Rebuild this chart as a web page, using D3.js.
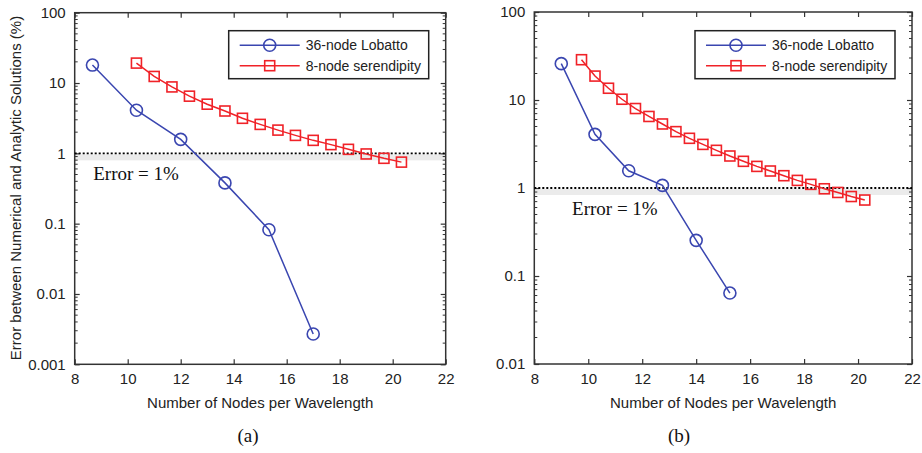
<!DOCTYPE html>
<html lang="en">
<head>
<meta charset="UTF-8">
<title>Error vs nodes per wavelength</title>
<script src="https://d3js.org/d3.v7.min.js"></script>
<style>
  body { margin: 0; background: #fff; }
  svg { display: block; font-family: "Liberation Sans", Arial, sans-serif; }
  .tick text { fill: #222; }
</style>
</head>
<body>
<div id="chart"></div>
<script>
// panel (a)
const lobattoXA = [8.67, 10.33, 12, 13.67, 15.33, 17];
const lobattoYA = [18.0, 4.1, 1.58, 0.38, 0.082, 0.0027];
const serendXA = [10.33, 11, 11.67, 12.33, 13, 13.67, 14.33, 15, 15.67, 16.33, 17, 17.67, 18.33, 19, 19.67, 20.33];
const serendYA = [19.2, 12.4, 8.8, 6.5, 5.0, 4.0, 3.15, 2.58, 2.14, 1.80, 1.53, 1.33, 1.14, 0.98, 0.85, 0.75];

// panel (b)
const lobattoXB = [9, 10.25, 11.5, 12.75, 14, 15.25];
const lobattoYB = [25.9, 4.07, 1.57, 1.07, 0.254, 0.064];
const serendXB = [9.75, 10.25, 10.75, 11.25, 11.75, 12.25, 12.75, 13.25, 13.75, 14.25, 14.75, 15.25, 15.75, 16.25, 16.75, 17.25, 17.75, 18.25, 18.75, 19.25, 19.75, 20.25];
const serendYB = [28.7, 18.7, 13.6, 10.2, 8.0, 6.5, 5.34, 4.37, 3.67, 3.13, 2.68, 2.31, 2.01, 1.76, 1.56, 1.38, 1.22, 1.10, 0.98, 0.89, 0.80, 0.73];

const xTicks = [8, 10, 12, 14, 16, 18, 20, 22];
const yTicksA = [0.001, 0.01, 0.1, 1, 10, 100];
const yTicksB = [0.01, 0.1, 1, 10, 100];
const seriesNames = ["36-node Lobatto", "8-node serendipity"];
const errorLabel = "Error = 1%";
const xTitle = "Number of Nodes per Wavelength";
const yTitle = "Error between Numerical and Analytic Solutions (%)";

const blue = "#3a46b0", red = "#f02228";
const W = 922, H = 453;
const sans = "Liberation Sans, Arial, sans-serif";
const serif = "Liberation Serif, Times New Roman, serif";

const svg = d3.select("#chart").append("svg")
  .attr("width", W).attr("height", H);

function panel(opts) {
  const { left, right, top, bottom, yTicks, lx, ly, sx, sy, legend, errPos, tagX, tag } = opts;
  const x = d3.scaleLinear().domain([8, 22]).range([left, right]);
  const y = d3.scaleLog().domain([yTicks[0], 100]).range([bottom, top]);
  const g = svg.append("g");

  // shadow under the 1% line
  g.append("rect")
    .attr("x", left).attr("width", right - left)
    .attr("y", y(1) + 1).attr("height", 6)
    .attr("fill", "#e6e6e6").attr("opacity", 0.8);

  // minor log ticks
  const minor = [];
  for (let e = Math.log10(yTicks[0]); e < 2; e++) {
    for (let k = 2; k <= 9; k++) minor.push(k * Math.pow(10, e));
  }
  g.selectAll(".minorL").data(minor).join("line")
    .attr("x1", left).attr("x2", left + 3)
    .attr("y1", d => y(d)).attr("y2", d => y(d))
    .attr("stroke", "#333").attr("stroke-width", 1);
  g.selectAll(".minorR").data(minor).join("line")
    .attr("x1", right).attr("x2", right - 3)
    .attr("y1", d => y(d)).attr("y2", d => y(d))
    .attr("stroke", "#333").attr("stroke-width", 1);

  // axes
  g.append("g").attr("transform", `translate(0,${bottom})`)
    .call(d3.axisBottom(x).tickValues(xTicks).tickSize(-5).tickPadding(9));
  g.append("g").attr("transform", `translate(0,${top})`)
    .call(d3.axisTop(x).tickValues(xTicks).tickSize(-5).tickFormat(""));
  g.append("g").attr("transform", `translate(${left},0)`)
    .call(d3.axisLeft(y).tickValues(yTicks).tickSize(-5).tickPadding(9).tickFormat(d => String(d)));
  g.append("g").attr("transform", `translate(${right},0)`)
    .call(d3.axisRight(y).tickValues(yTicks).tickSize(-5).tickFormat(""));
  g.selectAll(".domain").attr("stroke", "none");
  g.selectAll(".tick line").attr("stroke", "#333").attr("stroke-width", 1.2);
  g.selectAll(".tick text").attr("font-size", 15).attr("font-family", sans);

  // frame
  g.append("rect").attr("x", left).attr("y", top)
    .attr("width", right - left).attr("height", bottom - top)
    .attr("fill", "none").attr("stroke", "#333").attr("stroke-width", 1.5);

  // 1% line
  g.append("line")
    .attr("x1", left).attr("x2", right).attr("y1", y(1)).attr("y2", y(1))
    .attr("stroke", "#000").attr("stroke-width", 1.8).attr("stroke-dasharray", "2,2");
  g.append("text").attr("x", x(errPos)).attr("y", y(1) + 27)
    .attr("font-family", serif).attr("font-size", 19)
    .attr("fill", "#111").text(errorLabel);

  // lines and markers
  const line = d3.line().x(d => x(d[0])).y(d => y(d[1]));
  const lob = d3.zip(lx, ly), ser = d3.zip(sx, sy);
  g.append("path").datum(lob).attr("d", line).attr("fill", "none").attr("stroke", blue).attr("stroke-width", 1.5);
  g.append("path").datum(ser).attr("d", line).attr("fill", "none").attr("stroke", red).attr("stroke-width", 1.5);
  g.selectAll(".lob").data(lob).join("circle")
    .attr("cx", d => x(d[0])).attr("cy", d => y(d[1])).attr("r", 6)
    .attr("fill", "none").attr("stroke", blue).attr("stroke-width", 1.6);
  g.selectAll(".ser").data(ser).join("rect")
    .attr("x", d => x(d[0]) - 5).attr("y", d => y(d[1]) - 5)
    .attr("width", 10).attr("height", 10)
    .attr("fill", "none").attr("stroke", red).attr("stroke-width", 1.6);

  // legend
  const lg = g.append("g").attr("transform", `translate(${legend[0]},${legend[1]})`);
  lg.append("rect").attr("width", 200).attr("height", 48)
    .attr("fill", "#fff").attr("stroke", "#222").attr("stroke-width", 1.5);
  [blue, red].forEach((c, i) => {
    const yy = 14.5 + i * 20.5;
    lg.append("line").attr("x1", 11).attr("x2", 71).attr("y1", yy).attr("y2", yy)
      .attr("stroke", c).attr("stroke-width", 1.5);
    if (i === 0) {
      lg.append("circle").attr("cx", 41).attr("cy", yy).attr("r", 6)
        .attr("fill", "none").attr("stroke", c).attr("stroke-width", 1.6);
    } else {
      lg.append("rect").attr("x", 36).attr("y", yy - 5).attr("width", 10).attr("height", 10)
        .attr("fill", "none").attr("stroke", c).attr("stroke-width", 1.6);
    }
    lg.append("text").attr("x", 77).attr("y", yy + 5).attr("font-size", 14)
      .attr("font-family", sans).attr("fill", "#222").text(seriesNames[i]);
  });

  // x title
  g.append("text").attr("x", (left + right) / 2).attr("y", 408)
    .attr("text-anchor", "middle").attr("font-size", 15).attr("font-family", sans)
    .attr("fill", "#222").text(xTitle);

  // panel tag
  g.append("text").attr("x", tagX).attr("y", 442)
    .attr("text-anchor", "middle").attr("font-family", serif)
    .attr("font-size", 19).attr("fill", "#111").text(tag);
  return g;
}

panel({ left: 74.7, right: 445.7, top: 12.7, bottom: 364.3, yTicks: yTicksA,
  lx: lobattoXA, ly: lobattoYA, sx: serendXA, sy: serendYA,
  legend: [228.7, 30.7], errPos: 8.7, tagX: 248, tag: "(a)" });
panel({ left: 534.3, right: 912, top: 12, bottom: 364, yTicks: yTicksB,
  lx: lobattoXB, ly: lobattoYB, sx: serendXB, sy: serendYB,
  legend: [695, 30.7], errPos: 9.4, tagX: 679, tag: "(b)" });

// y title (panel a only)
svg.append("text").attr("transform", "translate(21,188) rotate(-90)")
  .attr("text-anchor", "middle").attr("font-size", 15).attr("font-family", sans)
  .attr("fill", "#222").text(yTitle);
</script>
</body>
</html>
